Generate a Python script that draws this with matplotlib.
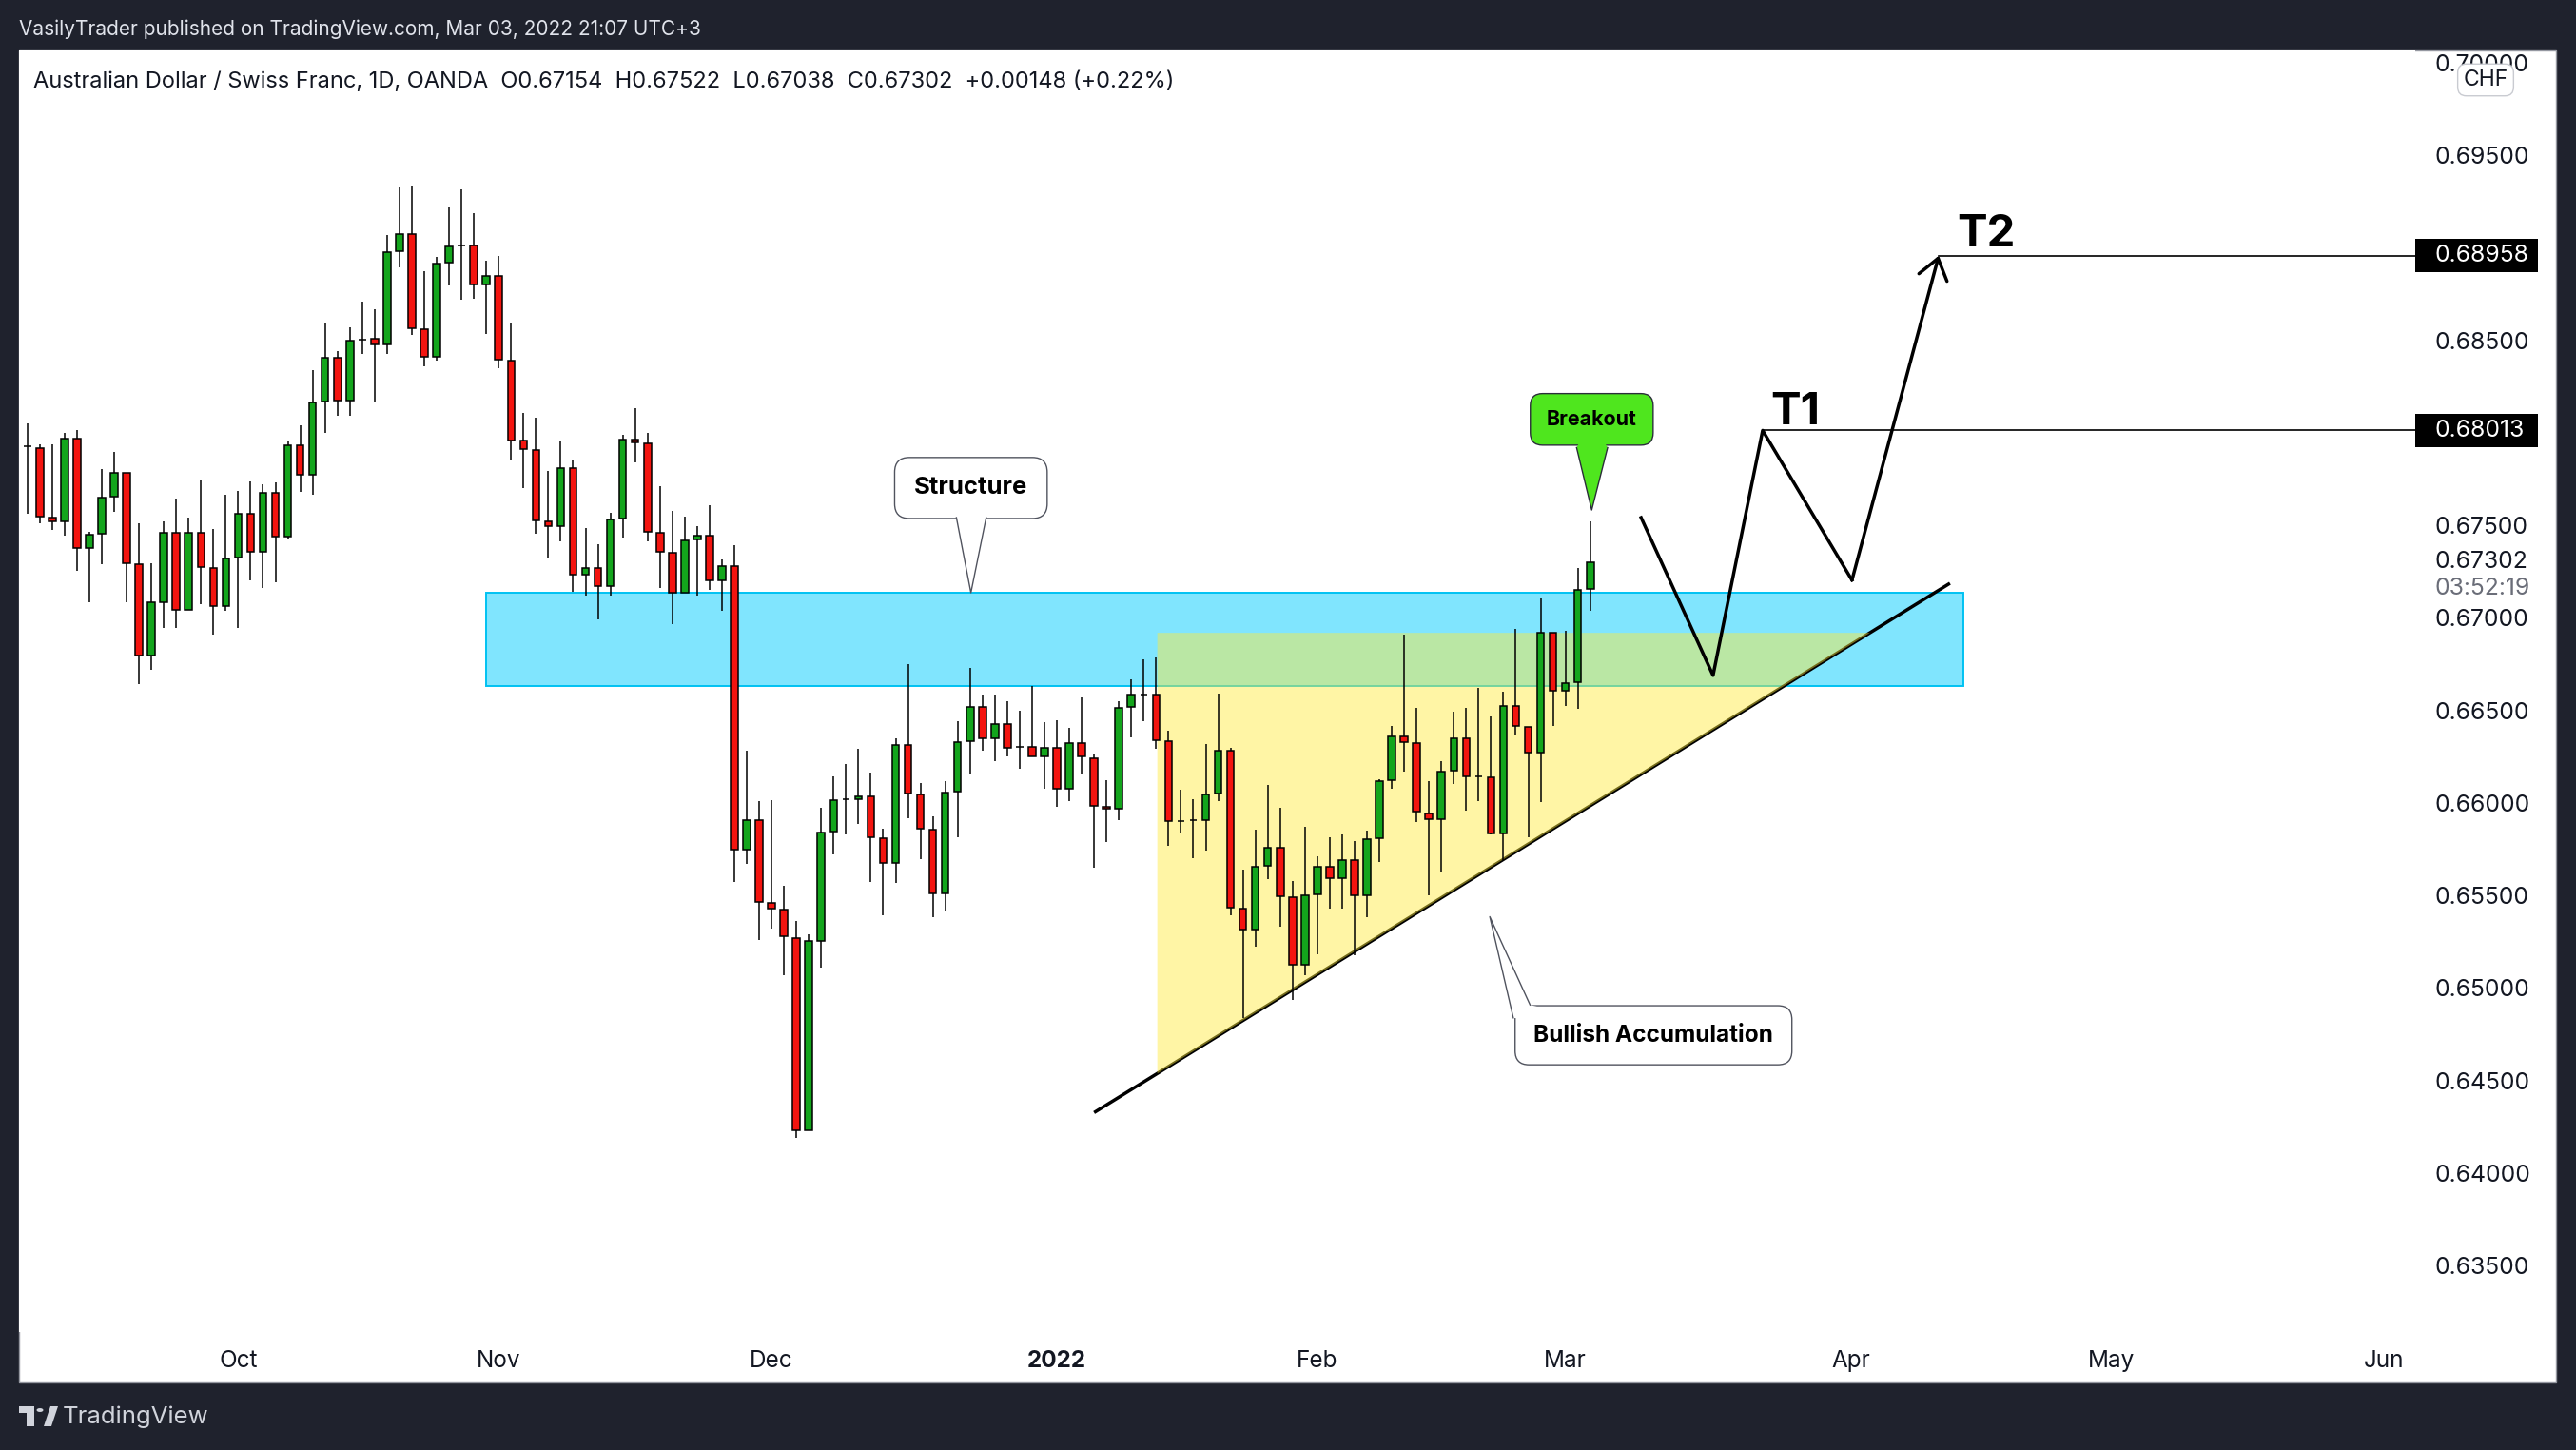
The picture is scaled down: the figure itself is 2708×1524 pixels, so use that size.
import matplotlib.pyplot as plt
import matplotlib.transforms as mtransforms
import numpy as np
import pandas as pd
from matplotlib.patches import Circle, Polygon, Rectangle
from matplotlib.ticker import FormatStrFormatter

plt.rcParams["font.family"] = ["Inter", "DejaVu Sans"]

FIG_W, FIG_H = 2708, 1524

# AUDCHF daily candles (OANDA), one per business day starting 8 Sep 2021
first_day = "2021-09-08"
last_axis_day = "2022-06-30"
opens = [
    0.67926, 0.67919, 0.67544, 0.67522, 0.67969, 0.67375, 0.67453, 0.67655, 0.67785, 0.67291,
    0.66797, 0.67085, 0.67462, 0.67043, 0.67462, 0.67271, 0.67065, 0.67326, 0.67565, 0.67357,
    0.67677, 0.67440, 0.67934, 0.67774, 0.68169, 0.68408, 0.68173, 0.68505, 0.68510, 0.68479,
    0.68981, 0.69076, 0.68562, 0.68409, 0.68918, 0.69014, 0.69014, 0.68802, 0.68850, 0.68393,
    0.67956, 0.67908, 0.67522, 0.67495, 0.67811, 0.67234, 0.67271, 0.67172, 0.67537, 0.67965,
    0.67945, 0.67462, 0.67353, 0.67137, 0.67425, 0.67445, 0.67203, 0.67282, 0.65745, 0.65908,
    0.65461, 0.65424, 0.65269, 0.64230, 0.65255, 0.65847, 0.66020, 0.66020, 0.66036, 0.65810,
    0.65676, 0.66315, 0.66046, 0.65857, 0.65511, 0.66060, 0.66333, 0.66520, 0.66349, 0.66426,
    0.66302, 0.66304, 0.66252, 0.66298, 0.66075, 0.66325, 0.66241, 0.65979, 0.65967, 0.66520,
    0.66587, 0.66587, 0.66335, 0.65902, 0.65906, 0.65908, 0.66050, 0.66282, 0.65430, 0.65316,
    0.65658, 0.65759, 0.65491, 0.65125, 0.65505, 0.65656, 0.65595, 0.65692, 0.65501, 0.65810,
    0.66121, 0.66357, 0.66325, 0.65942, 0.65912, 0.66176, 0.66349, 0.66142, 0.66140, 0.65835,
    0.66526, 0.66409, 0.66272, 0.66921, 0.66607, 0.66653, 0.67154,
]
highs = [
    0.68049, 0.67936, 0.67936, 0.67998, 0.68013, 0.67463, 0.67803, 0.67895, 0.67785, 0.67513,
    0.67293, 0.67521, 0.67644, 0.67541, 0.67746, 0.67478, 0.67664, 0.67684, 0.67737, 0.67721,
    0.67730, 0.67958, 0.68040, 0.68338, 0.68589, 0.68441, 0.68569, 0.68707, 0.68667, 0.69067,
    0.69326, 0.69331, 0.68872, 0.68949, 0.69217, 0.69315, 0.69186, 0.68929, 0.68955, 0.68595,
    0.68106, 0.68081, 0.67792, 0.67961, 0.67858, 0.67484, 0.67396, 0.67566, 0.67987, 0.68132,
    0.67998, 0.67710, 0.67577, 0.67546, 0.67495, 0.67607, 0.67315, 0.67394, 0.66280, 0.66008,
    0.66014, 0.65550, 0.65363, 0.65288, 0.65973, 0.66142, 0.66209, 0.66290, 0.66162, 0.65859,
    0.66347, 0.66748, 0.66105, 0.65926, 0.66115, 0.66439, 0.66727, 0.66583, 0.66583, 0.66548,
    0.66496, 0.66630, 0.66435, 0.66445, 0.66404, 0.66569, 0.66262, 0.66125, 0.66552, 0.66666,
    0.66778, 0.66788, 0.66388, 0.66071, 0.66020, 0.66317, 0.66589, 0.66298, 0.65637, 0.65853,
    0.66099, 0.65971, 0.65576, 0.65873, 0.65709, 0.65816, 0.65827, 0.65794, 0.65851, 0.66130,
    0.66416, 0.66912, 0.66516, 0.66115, 0.66223, 0.66491, 0.66512, 0.66620, 0.66465, 0.66603,
    0.66939, 0.66409, 0.67107, 0.66921, 0.66928, 0.67272, 0.67522,
]
lows = [
    0.67564, 0.67513, 0.67476, 0.67443, 0.67256, 0.67082, 0.67289, 0.67572, 0.67082, 0.66641,
    0.66718, 0.66944, 0.66944, 0.67043, 0.67076, 0.66907, 0.67039, 0.66944, 0.67205, 0.67164,
    0.67190, 0.67430, 0.67682, 0.67667, 0.68002, 0.68092, 0.68092, 0.68428, 0.68167, 0.68424,
    0.68896, 0.68531, 0.68362, 0.68393, 0.68799, 0.68722, 0.68727, 0.68536, 0.68349, 0.67853,
    0.67699, 0.67456, 0.67320, 0.67416, 0.67142, 0.67118, 0.66990, 0.67122, 0.67436, 0.67842,
    0.67412, 0.67164, 0.66968, 0.67137, 0.67122, 0.67153, 0.67036, 0.65571, 0.65668, 0.65261,
    0.65322, 0.65068, 0.64188, 0.64230, 0.65109, 0.65719, 0.65827, 0.65888, 0.65570, 0.65395,
    0.65566, 0.65916, 0.65698, 0.65383, 0.65420, 0.65816, 0.66160, 0.66284, 0.66227, 0.66249,
    0.66186, 0.66252, 0.66075, 0.65981, 0.66008, 0.66160, 0.65648, 0.65786, 0.65908, 0.66353,
    0.66441, 0.66292, 0.65770, 0.65837, 0.65703, 0.65743, 0.66008, 0.65391, 0.64838, 0.65225,
    0.65587, 0.65330, 0.64934, 0.65068, 0.65184, 0.65430, 0.65426, 0.65176, 0.65383, 0.65678,
    0.66075, 0.66170, 0.65898, 0.65501, 0.65623, 0.66103, 0.65957, 0.66008, 0.65831, 0.65692,
    0.66368, 0.65812, 0.66003, 0.66416, 0.66522, 0.66508, 0.67038,
]
closes = [
    0.67926, 0.67546, 0.67522, 0.67969, 0.67375, 0.67451, 0.67651, 0.67785, 0.67296, 0.66797,
    0.67082, 0.67462, 0.67043, 0.67462, 0.67274, 0.67065, 0.67322, 0.67565, 0.67357, 0.67677,
    0.67440, 0.67934, 0.67774, 0.68165, 0.68408, 0.68173, 0.68496, 0.68505, 0.68479, 0.68979,
    0.69076, 0.68564, 0.68409, 0.68916, 0.69010, 0.69014, 0.68802, 0.68850, 0.68397, 0.67959,
    0.67913, 0.67528, 0.67495, 0.67811, 0.67234, 0.67271, 0.67172, 0.67533, 0.67965, 0.67948,
    0.67467, 0.67357, 0.67137, 0.67421, 0.67445, 0.67203, 0.67282, 0.65748, 0.65908, 0.65465,
    0.65430, 0.65278, 0.64230, 0.65255, 0.65841, 0.66016, 0.66020, 0.66036, 0.65814, 0.65676,
    0.66315, 0.66050, 0.65859, 0.65511, 0.66056, 0.66329, 0.66520, 0.66349, 0.66426, 0.66298,
    0.66302, 0.66252, 0.66298, 0.66075, 0.66325, 0.66250, 0.65985, 0.65967, 0.66512, 0.66583,
    0.66587, 0.66339, 0.65902, 0.65902, 0.65906, 0.66046, 0.66282, 0.65434, 0.65316, 0.65656,
    0.65759, 0.65495, 0.65125, 0.65501, 0.65656, 0.65595, 0.65692, 0.65501, 0.65804, 0.66115,
    0.66357, 0.66329, 0.65951, 0.65912, 0.66170, 0.66349, 0.66144, 0.66142, 0.65835, 0.66526,
    0.66416, 0.66272, 0.66921, 0.66607, 0.66648, 0.67153, 0.67302,
]

# drawings (x = bars counted from the first candle)
structure_zone = [0.66634, 0.67135]
structure_bars = [37.0, 156.1]
accum_top = 0.66919
accum_start = 91.1
trend_bars = [86.0, 155.0]
trend_prices = [0.64326, 0.67187]
path_bars = [130.1, 135.9, 139.9, 147.1, 154.1]
path_prices = [0.67542, 0.66689, 0.68013, 0.67204, 0.68958]
target_prices = [0.68013, 0.68958]
target_from = [139.9, 154.1]
target_names = ["T1", "T2"]
target_label_at = [(140.5, 0.68110), (155.6, 0.69069)]
price_ticks = [0.635, 0.640, 0.645, 0.650, 0.655, 0.660, 0.665, 0.670, 0.675, 0.685, 0.695, 0.700]
last_price = 0.67302
countdown = "03:52:19"

callout_texts = ["Structure", "Breakout", "Bullish Accumulation"]
callout_centers = [(76.07, 0.67702), (126.12, 0.68073), (131.1, 0.64744)]
callout_tips = [(76.07, 0.67136), (126.12, 0.67583), (117.9, 0.65385)]
callout_bases = [
    [(74.9, 0.67542), (77.3, 0.67542)],
    [(124.9, 0.67920), (127.4, 0.67920)],
    [(119.8, 0.64838), (121.15, 0.64908)],
]

UP, DOWN = "#13A51C", "#F3140F"
DARK = "#1F222D"
AXIS_FS = 17.8


def fx(px):
    return px / FIG_W


def fy(py):
    return 1 - py / FIG_H


fig = plt.figure(figsize=(FIG_W / 100, FIG_H / 100), dpi=100)
fig.patch.set_facecolor(DARK)

# white chart panel
fig.add_artist(Rectangle((fx(20), fy(1453)), fx(2667), 1400 / FIG_H, transform=fig.transFigure,
                         facecolor="white", edgecolor="#9598A1", lw=1.0, zorder=-1))

ax = fig.add_axes([fx(20), fy(1400), fx(2519), 1347 / FIG_H])
ax.set_facecolor("white")
for s in ax.spines.values():
    s.set_visible(False)

n = len(opens)
x = np.arange(n)
o, h, l, c = map(np.array, (opens, highs, lows, closes))
up = c >= o

# structure zone
ax.add_patch(Rectangle((structure_bars[0], structure_zone[0]), structure_bars[1] - structure_bars[0],
                       structure_zone[1] - structure_zone[0], facecolor="#80E5FE", edgecolor="#00C2F2",
                       lw=1.4, zorder=1))

# rising trendline
ax.plot(trend_bars, trend_prices, color="black", lw=2.5, solid_capstyle="butt", zorder=1.5)

# accumulation triangle: from accum_start up to where the trendline meets accum_top
slope = (trend_prices[1] - trend_prices[0]) / (trend_bars[1] - trend_bars[0])
accum_end = trend_bars[0] + (accum_top - trend_prices[0]) / slope
accum_low = trend_prices[0] + slope * (accum_start - trend_bars[0])
ax.add_patch(Polygon([(accum_start, accum_top), (accum_end, accum_top), (accum_start, accum_low)],
                     closed=True, facecolor="#FFEB3B", alpha=0.46, edgecolor="none", zorder=2))

# candles
ax.vlines(x, l, h, color="black", lw=1.1, zorder=3)
ax.bar(x, np.abs(c - o), bottom=np.minimum(o, c), width=0.58,
       color=np.where(up, UP, DOWN), edgecolor="black", linewidth=1.1, zorder=4)

# projected path with arrow to T2
ax.plot(path_bars[:-1], path_prices[:-1], color="black", lw=2.5, zorder=5)
ax.annotate("", xy=(path_bars[-1], path_prices[-1]), xytext=(path_bars[-2], path_prices[-2]),
            arrowprops=dict(arrowstyle="->,head_length=0.75,head_width=0.55", color="black", lw=2.5,
                            shrinkA=0, shrinkB=0, mutation_scale=20), zorder=5)

xmin, xmax = -0.67, 192.51
ax.set_xlim(xmin, xmax)
ax.set_ylim(0.63140, 0.70067)

trans = mtransforms.blended_transform_factory(ax.transAxes, ax.transData)
for p, start, name, lab in zip(target_prices, target_from, target_names, target_label_at):
    ax.plot([start, xmax], [p, p], color="black", lw=1.2, zorder=5)
    ax.text(lab[0], lab[1], name, fontsize=34, fontweight="bold", ha="left", va="center", zorder=6)
    ax.add_patch(Rectangle((1.0, p - 0.0009), 0.0512, 0.0018, transform=trans, facecolor="black",
                           edgecolor="none", clip_on=False, zorder=10))
    ax.text(1.0081, p, f"{p:.5f}", transform=trans, color="white", fontsize=AXIS_FS, ha="left",
            va="center", clip_on=False, zorder=11)

ax.text(1.0081, last_price, f"{last_price:.5f}", transform=trans, color="#131722", fontsize=AXIS_FS,
        ha="left", va="center", clip_on=False)
ax.annotate(countdown, xy=(1.0081, last_price), xycoords=trans, xytext=(0, -20),
            textcoords="offset points", color="#6A6D78", fontsize=AXIS_FS, ha="left", va="center")


# callouts
def callout(text, center, tip, base, fc, ec, size):
    ax.text(center[0], center[1], text, ha="center", va="center", fontsize=size, fontweight="bold",
            color="black", zorder=7,
            bbox=dict(boxstyle="round,pad=0.8,rounding_size=0.6", fc=fc, ec=ec, lw=1.0))
    cc = np.array(center)
    b1, b2 = np.array(base[0]), np.array(base[1])
    in1, in2 = b1 + 0.15 * (cc - b1), b2 + 0.15 * (cc - b2)
    ax.add_patch(Polygon([b1, tip, b2, in2, in1], closed=True, fc=fc, ec="none", zorder=8))
    ax.plot([b1[0], tip[0], b2[0]], [b1[1], tip[1], b2[1]], color=ec, lw=1.0, zorder=8)


callout(callout_texts[0], callout_centers[0], callout_tips[0], callout_bases[0], "white", "#50535E", 18.5)
callout(callout_texts[1], callout_centers[1], callout_tips[1], callout_bases[1], "#4FE61E", "#2A2E39", 15.4)
callout(callout_texts[2], callout_centers[2], callout_tips[2], callout_bases[2], "white", "#50535E", 17.6)

# axes ticks
ax.yaxis.tick_right()
ax.set_yticks(price_ticks)
ax.yaxis.set_major_formatter(FormatStrFormatter("%.5f"))
ax.tick_params(axis="y", length=0, pad=14.8, labelsize=AXIS_FS, labelcolor="#131722")

all_days = pd.bdate_range(first_day, last_axis_day)
pos = np.arange(len(all_days))
is_first = np.r_[False, all_days.month[1:] != all_days.month[:-1]]
tick_days = all_days[is_first]
ax.set_xticks(pos[is_first])
ax.set_xticklabels([str(d.year) if d.month == 1 else d.strftime("%b") for d in tick_days])
ax.tick_params(axis="x", length=0, pad=13.5, labelsize=17.5, labelcolor="#131722")
for lbl, d in zip(ax.get_xticklabels(), tick_days):
    if d.month == 1:
        lbl.set_fontweight("bold")

# header / footer
fig.text(fx(20), fy(31), "VasilyTrader published on TradingView.com, Mar 03, 2022 21:07 UTC+3",
         color="#E0E3EB", fontsize=15, ha="left", va="center")
fig.text(fx(35), fy(86),
         "Australian Dollar / Swiss Franc, 1D, OANDA  O0.67154  H0.67522  L0.67038  C0.67302  +0.00148 (+0.22%)",
         color="#131722", fontsize=17, ha="left", va="center")
fig.text(fx(2613), fy(84), "CHF", color="#131722", fontsize=16.5, ha="center", va="center",
         bbox=dict(boxstyle="round,pad=0.25,rounding_size=0.4", fc="white", ec="#C9CBD1", lw=1.0))

logo_c = "#D1D4DC"
fig.add_artist(Polygon([(fx(20), fy(1478)), (fx(36), fy(1478)), (fx(36), fy(1499)), (fx(28), fy(1499)),
                        (fx(28), fy(1485)), (fx(20), fy(1485))], closed=True, transform=fig.transFigure,
                       fc=logo_c, ec="none"))
fig.add_artist(Circle((fx(42), fy(1482)), 3.5 / FIG_W, transform=fig.transFigure, fc=logo_c, ec="none"))
fig.add_artist(Polygon([(fx(46), fy(1499)), (fx(53), fy(1478)), (fx(61), fy(1478)), (fx(54), fy(1499))],
                       closed=True, transform=fig.transFigure, fc=logo_c, ec="none"))
fig.text(fx(66), fy(1489), "TradingView", color=logo_c, fontsize=18.5, ha="left", va="center")

fig.savefig("out.png", dpi=100, facecolor=DARK)
